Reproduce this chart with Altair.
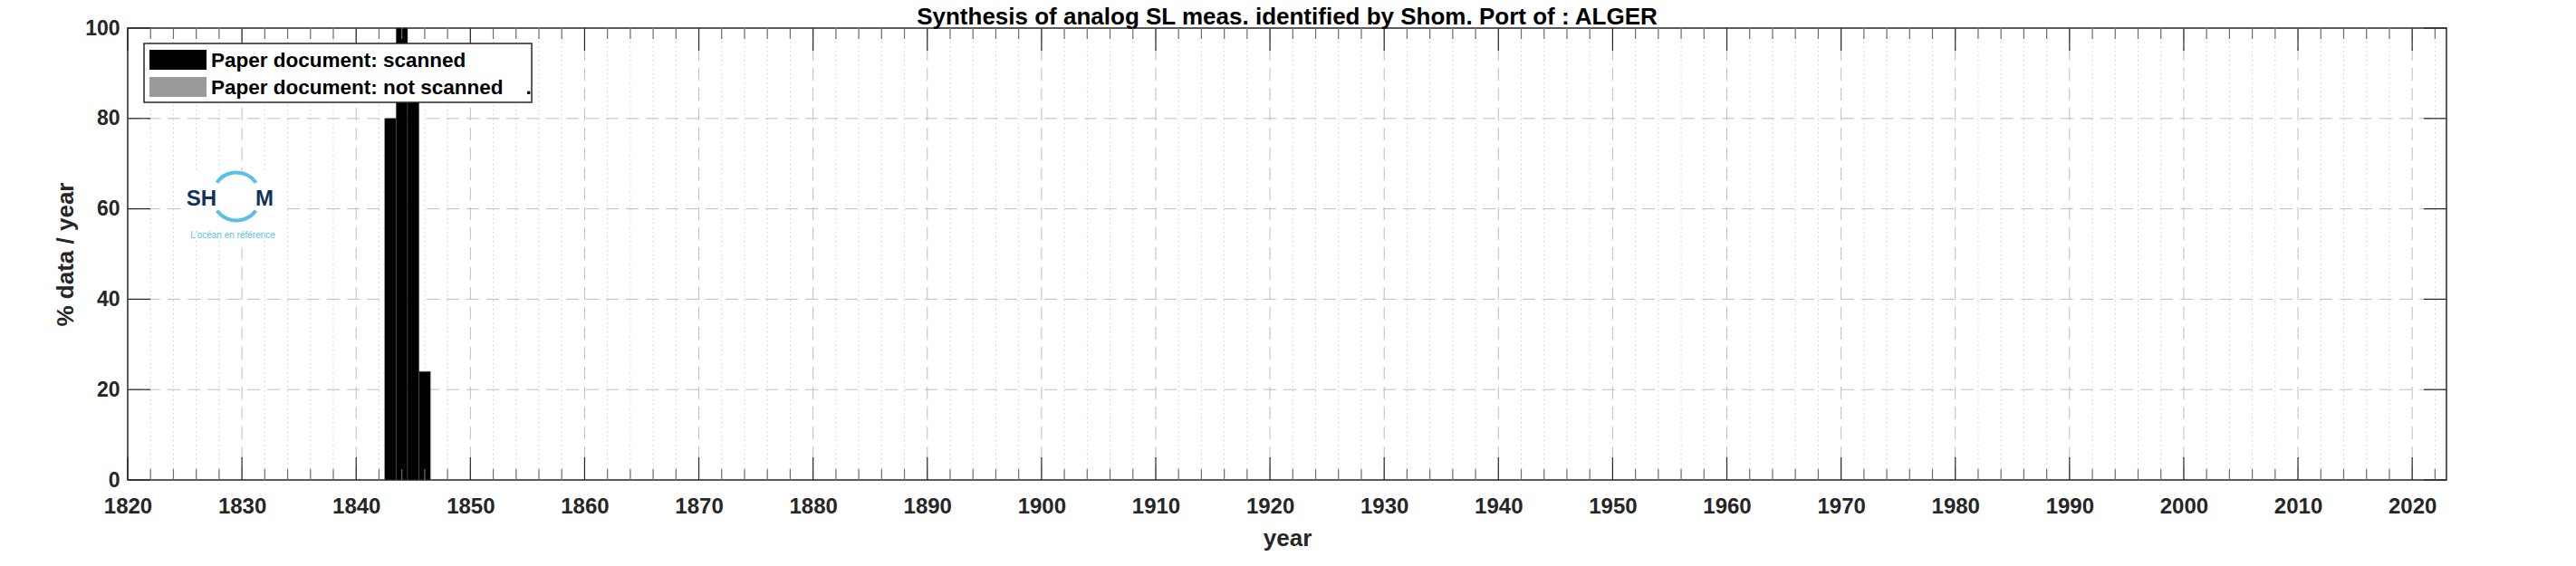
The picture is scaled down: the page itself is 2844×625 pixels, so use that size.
import altair as alt
import pandas as pd

# ---------------- data ----------------
BAR_YEARS = [1843, 1844, 1845, 1846]
SCANNED = [80, 100, 90, 24]          # % data / year, paper document scanned
NOT_SCANNED = [0, 0, 0, 0]           # % data / year, paper document not scanned
X_DOMAIN = [1820, 2023]
Y_DOMAIN = [0, 100]
X_MAJOR = list(range(1820, 2021, 10))
X_MINOR = [y for y in range(1822, 2023, 2) if y % 10 != 0]
Y_TICKS = [0, 20, 40, 60, 80, 100]
TITLE = "Synthesis of analog SL meas. identified by Shom. Port of : ALGER"
X_TITLE = "year"
Y_TITLE = "% data / year"
LEGEND_LABELS = ["Paper document: scanned",
                 "Paper document: not scanned\u00a0\u00a0\u00a0 ."]
LEGEND_COLORS = ["#000000", "#999999"]

W, H = 2560, 499
FONT = "Liberation Sans"
DARK = "#262626"

bars = pd.DataFrame({"year": BAR_YEARS, "scanned": SCANNED, "not_scanned": NOT_SCANNED})
major_df = pd.DataFrame({"year": X_MAJOR})
major_grid_df = pd.DataFrame({"year": [y for y in X_MAJOR if y != X_DOMAIN[0]]})
minor_df = pd.DataFrame({"year": X_MINOR})
yt_df = pd.DataFrame({"v": Y_TICKS})
ygrid_df = pd.DataFrame({"v": [v for v in Y_TICKS if 0 < v < 100]})
one = pd.DataFrame({"a": [0]})

xs = alt.Scale(domain=X_DOMAIN, nice=False, zero=False)
ys = alt.Scale(domain=Y_DOMAIN, nice=False)

X_AXIS = alt.Axis(values=X_MAJOR, format="d", tickSize=0, ticks=False, domain=False, grid=False,
                  labelFlush=False, labelOverlap=False, labelPadding=17,
                  titleY=72, titleBaseline="alphabetic")
Y_AXIS = alt.Axis(values=Y_TICKS, tickSize=0, ticks=False, domain=False, grid=False,
                  labelFlush=False, labelOverlap=False, labelPadding=9,
                  titleX=-61, titleY=H / 2, titleBaseline="alphabetic", titleAlign="center")


def XQ(f):
    return alt.X(f, type="quantitative", scale=xs, axis=X_AXIS, title=X_TITLE)


def YQ(f):
    return alt.Y(f, type="quantitative", scale=ys, axis=Y_AXIS, title=Y_TITLE)


# ---------------- grid ----------------
minor_grid = alt.Chart(minor_df).mark_rule(color="#cfcfcf", strokeWidth=1, strokeDash=[1.5, 3.5]).encode(
    x=XQ("year"), y=alt.value(0), y2=alt.value(H))
major_grid = alt.Chart(major_grid_df).mark_rule(color="#bdbdbd", strokeWidth=1, strokeDash=[14, 8]).encode(
    x=XQ("year"), y=alt.value(0), y2=alt.value(H))
y_grid = alt.Chart(ygrid_df).mark_rule(color="#bdbdbd", strokeWidth=1, strokeDash=[14, 8]).encode(
    y=YQ("v"), x=alt.value(0), x2=alt.value(W))

# ---------------- title (text above the plot area) ----------------
title_txt = alt.Chart(one).mark_text(align="center", baseline="alphabetic", font=FONT, fontSize=26,
                                     fontWeight="bold", color="black").encode(
    x=alt.value(W / 2), y=alt.value(-4.5), text=alt.value(TITLE))

# ---------------- logo ----------------
logo_box = alt.Chart(one).mark_rect(color="white").encode(
    x=alt.value(59), x2=alt.value(171), y=alt.value(157), y2=alt.value(235))
arc_kw = dict(innerRadius=24.5, outerRadius=28.5, color="#5bc0e8")
arc1 = alt.Chart(one).mark_arc(theta=0.0, theta2=0.95, **arc_kw).encode(x=alt.value(120), y=alt.value(186))
arc2 = alt.Chart(one).mark_arc(theta=5.33, theta2=6.2832, **arc_kw).encode(x=alt.value(120), y=alt.value(186))
arc3 = alt.Chart(one).mark_arc(theta=2.2, theta2=4.08, **arc_kw).encode(x=alt.value(120), y=alt.value(186))
sh = alt.Chart(one).mark_text(align="right", baseline="alphabetic", font=FONT, fontSize=24,
                              fontWeight="bold", color="#14305e").encode(
    x=alt.value(98), y=alt.value(196), text=alt.value("SH"))
m = alt.Chart(one).mark_text(align="left", baseline="alphabetic", font=FONT, fontSize=24,
                             fontWeight="bold", color="#14305e").encode(
    x=alt.value(141), y=alt.value(196), text=alt.value("M"))
tag = alt.Chart(one).mark_text(align="center", baseline="alphabetic", font=FONT, fontSize=10,
                               color="#5bc0e8").encode(
    x=alt.value(116), y=alt.value(232), text=alt.value("L'océan en référence"))

# ---------------- bars ----------------
bar_scanned = alt.Chart(bars).transform_calculate(
    x0="datum.year - 0.5", x1="datum.year + 0.5"
).mark_rect(color=LEGEND_COLORS[0], stroke="#555555", strokeWidth=0.5).encode(
    x=XQ("x0"), x2="x1:Q", y=YQ("scanned"), y2=alt.datum(0))
bar_not = alt.Chart(bars).transform_calculate(
    x0="datum.year - 0.5", x1="datum.year + 0.5", top="datum.scanned + datum.not_scanned"
).transform_filter("datum.not_scanned > 0").mark_rect(color=LEGEND_COLORS[1]).encode(
    x=XQ("x0"), x2="x1:Q", y=YQ("top"), y2="scanned:Q")

# ---------------- ticks (inward) ----------------
tick_major_b = alt.Chart(major_df).mark_rule(color=DARK, strokeWidth=1.2).encode(
    x=XQ("year"), y=alt.value(H), y2=alt.value(H - 25))
tick_major_t = alt.Chart(major_df).mark_rule(color=DARK, strokeWidth=1.2).encode(
    x=XQ("year"), y=alt.value(0), y2=alt.value(25))
tick_minor_b = alt.Chart(minor_df).mark_rule(color="#6e6e6e", strokeWidth=1.2).encode(
    x=XQ("year"), y=alt.value(H), y2=alt.value(H - 12))
tick_minor_t = alt.Chart(minor_df).mark_rule(color="#6e6e6e", strokeWidth=1.2).encode(
    x=XQ("year"), y=alt.value(0), y2=alt.value(12))
tick_l = alt.Chart(yt_df).mark_rule(color=DARK, strokeWidth=1.2).encode(
    y=YQ("v"), x=alt.value(0), x2=alt.value(25))
tick_r = alt.Chart(yt_df).mark_rule(color=DARK, strokeWidth=1.2).encode(
    y=YQ("v"), x=alt.value(W), x2=alt.value(W - 25))

# ---------------- legend ----------------
leg_box = alt.Chart(one).mark_rect(fill="white", stroke=DARK, strokeWidth=1.5).encode(
    x=alt.value(18), x2=alt.value(446), y=alt.value(17), y2=alt.value(82))
sw1 = alt.Chart(one).mark_rect(color=LEGEND_COLORS[0]).encode(
    x=alt.value(24), x2=alt.value(87), y=alt.value(24), y2=alt.value(46))
sw2 = alt.Chart(one).mark_rect(color=LEGEND_COLORS[1]).encode(
    x=alt.value(24), x2=alt.value(87), y=alt.value(54), y2=alt.value(76))
lt_kw = dict(align="left", baseline="alphabetic", font=FONT, fontSize=22.5, fontWeight="bold", color="black")
lt1 = alt.Chart(one).mark_text(**lt_kw).encode(x=alt.value(92), y=alt.value(43), text=alt.value(LEGEND_LABELS[0]))
lt2 = alt.Chart(one).mark_text(**lt_kw).encode(x=alt.value(92), y=alt.value(73), text=alt.value(LEGEND_LABELS[1]))

chart = alt.layer(
    minor_grid, major_grid, y_grid, title_txt,
    logo_box, arc1, arc2, arc3, sh, m, tag,
    bar_scanned, bar_not,
    tick_minor_b, tick_minor_t, tick_major_b, tick_major_t, tick_l, tick_r,
    leg_box, sw1, sw2, lt1, lt2,
).properties(
    width=W, height=H,
    autosize=alt.AutoSizeParams(type="none"),
    padding={"left": 133, "top": 23, "right": 135, "bottom": 80},
).configure_view(
    stroke=DARK, strokeWidth=1.5
).configure_axis(
    labelFont=FONT, labelFontSize=24, labelFontWeight="bold", labelColor=DARK,
    titleFont=FONT, titleFontSize=26, titleFontWeight="bold", titleColor=DARK,
).configure_axisY(labelFontSize=23)

chart.save("out.html", embed_options={"renderer": "svg", "actions": False})
